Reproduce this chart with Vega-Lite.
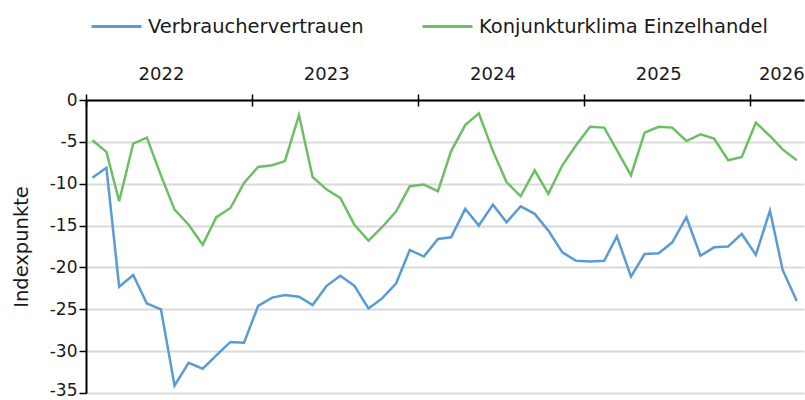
{
  "$schema": "https://vega.github.io/schema/vega-lite/v6.json",
  "width": 718,
  "height": 293,
  "autosize": {"type": "none"},
  "padding": {"left": 86, "top": 100, "right": 1, "bottom": 7},
  "background": "white",
  "config": {"font": "DejaVu Sans", "view": {"stroke": null}},
  "data": {
    "values": [
      {"Monat": "2022-01-15", "Verbrauchervertrauen": -9.3, "Konjunkturklima Einzelhandel": -4.8},
      {"Monat": "2022-02-15", "Verbrauchervertrauen": -8.1, "Konjunkturklima Einzelhandel": -6.2},
      {"Monat": "2022-03-15", "Verbrauchervertrauen": -22.3, "Konjunkturklima Einzelhandel": -12.1},
      {"Monat": "2022-04-15", "Verbrauchervertrauen": -20.9, "Konjunkturklima Einzelhandel": -5.2},
      {"Monat": "2022-05-15", "Verbrauchervertrauen": -24.3, "Konjunkturklima Einzelhandel": -4.5},
      {"Monat": "2022-06-15", "Verbrauchervertrauen": -25.0, "Konjunkturklima Einzelhandel": -9.0},
      {"Monat": "2022-07-15", "Verbrauchervertrauen": -34.1, "Konjunkturklima Einzelhandel": -13.1},
      {"Monat": "2022-08-15", "Verbrauchervertrauen": -31.4, "Konjunkturklima Einzelhandel": -14.9},
      {"Monat": "2022-09-15", "Verbrauchervertrauen": -32.1, "Konjunkturklima Einzelhandel": -17.3},
      {"Monat": "2022-10-15", "Verbrauchervertrauen": -30.5, "Konjunkturklima Einzelhandel": -14.0},
      {"Monat": "2022-11-15", "Verbrauchervertrauen": -28.9, "Konjunkturklima Einzelhandel": -12.9},
      {"Monat": "2022-12-15", "Verbrauchervertrauen": -29.0, "Konjunkturklima Einzelhandel": -9.9},
      {"Monat": "2023-01-15", "Verbrauchervertrauen": -24.6, "Konjunkturklima Einzelhandel": -8.0},
      {"Monat": "2023-02-15", "Verbrauchervertrauen": -23.6, "Konjunkturklima Einzelhandel": -7.8},
      {"Monat": "2023-03-15", "Verbrauchervertrauen": -23.3, "Konjunkturklima Einzelhandel": -7.3},
      {"Monat": "2023-04-15", "Verbrauchervertrauen": -23.5, "Konjunkturklima Einzelhandel": -1.8},
      {"Monat": "2023-05-15", "Verbrauchervertrauen": -24.5, "Konjunkturklima Einzelhandel": -9.2},
      {"Monat": "2023-06-15", "Verbrauchervertrauen": -22.2, "Konjunkturklima Einzelhandel": -10.7},
      {"Monat": "2023-07-15", "Verbrauchervertrauen": -21.0, "Konjunkturklima Einzelhandel": -11.7},
      {"Monat": "2023-08-15", "Verbrauchervertrauen": -22.2, "Konjunkturklima Einzelhandel": -14.9},
      {"Monat": "2023-09-15", "Verbrauchervertrauen": -24.9, "Konjunkturklima Einzelhandel": -16.8},
      {"Monat": "2023-10-15", "Verbrauchervertrauen": -23.7, "Konjunkturklima Einzelhandel": -15.2},
      {"Monat": "2023-11-15", "Verbrauchervertrauen": -21.9, "Konjunkturklima Einzelhandel": -13.3},
      {"Monat": "2023-12-15", "Verbrauchervertrauen": -17.9, "Konjunkturklima Einzelhandel": -10.3},
      {"Monat": "2024-01-15", "Verbrauchervertrauen": -18.7, "Konjunkturklima Einzelhandel": -10.1},
      {"Monat": "2024-02-15", "Verbrauchervertrauen": -16.6, "Konjunkturklima Einzelhandel": -10.9},
      {"Monat": "2024-03-15", "Verbrauchervertrauen": -16.4, "Konjunkturklima Einzelhandel": -6.1},
      {"Monat": "2024-04-15", "Verbrauchervertrauen": -13.0, "Konjunkturklima Einzelhandel": -3.0},
      {"Monat": "2024-05-15", "Verbrauchervertrauen": -15.0, "Konjunkturklima Einzelhandel": -1.6},
      {"Monat": "2024-06-15", "Verbrauchervertrauen": -12.5, "Konjunkturklima Einzelhandel": -6.1},
      {"Monat": "2024-07-15", "Verbrauchervertrauen": -14.6, "Konjunkturklima Einzelhandel": -9.8},
      {"Monat": "2024-08-15", "Verbrauchervertrauen": -12.7, "Konjunkturklima Einzelhandel": -11.5},
      {"Monat": "2024-09-15", "Verbrauchervertrauen": -13.6, "Konjunkturklima Einzelhandel": -8.4},
      {"Monat": "2024-10-15", "Verbrauchervertrauen": -15.6, "Konjunkturklima Einzelhandel": -11.2},
      {"Monat": "2024-11-15", "Verbrauchervertrauen": -18.2, "Konjunkturklima Einzelhandel": -7.8},
      {"Monat": "2024-12-15", "Verbrauchervertrauen": -19.2, "Konjunkturklima Einzelhandel": -5.4},
      {"Monat": "2025-01-15", "Verbrauchervertrauen": -19.3, "Konjunkturklima Einzelhandel": -3.2},
      {"Monat": "2025-02-15", "Verbrauchervertrauen": -19.2, "Konjunkturklima Einzelhandel": -3.3},
      {"Monat": "2025-03-15", "Verbrauchervertrauen": -16.3, "Konjunkturklima Einzelhandel": -6.0},
      {"Monat": "2025-04-15", "Verbrauchervertrauen": -21.1, "Konjunkturklima Einzelhandel": -9.0},
      {"Monat": "2025-05-15", "Verbrauchervertrauen": -18.4, "Konjunkturklima Einzelhandel": -3.9},
      {"Monat": "2025-06-15", "Verbrauchervertrauen": -18.3, "Konjunkturklima Einzelhandel": -3.2},
      {"Monat": "2025-07-15", "Verbrauchervertrauen": -17.0, "Konjunkturklima Einzelhandel": -3.3},
      {"Monat": "2025-08-15", "Verbrauchervertrauen": -14.0, "Konjunkturklima Einzelhandel": -4.9},
      {"Monat": "2025-09-15", "Verbrauchervertrauen": -18.6, "Konjunkturklima Einzelhandel": -4.1},
      {"Monat": "2025-10-15", "Verbrauchervertrauen": -17.6, "Konjunkturklima Einzelhandel": -4.6},
      {"Monat": "2025-11-15", "Verbrauchervertrauen": -17.5, "Konjunkturklima Einzelhandel": -7.2},
      {"Monat": "2025-12-15", "Verbrauchervertrauen": -16.0, "Konjunkturklima Einzelhandel": -6.8},
      {"Monat": "2026-01-15", "Verbrauchervertrauen": -18.5, "Konjunkturklima Einzelhandel": -2.7},
      {"Monat": "2026-02-15", "Verbrauchervertrauen": -13.2, "Konjunkturklima Einzelhandel": -4.3},
      {"Monat": "2026-03-15", "Verbrauchervertrauen": -20.3, "Konjunkturklima Einzelhandel": -5.9},
      {"Monat": "2026-04-15", "Verbrauchervertrauen": -24.0, "Konjunkturklima Einzelhandel": -7.2}
    ]
  },
  "transform": [
    {"fold": ["Verbrauchervertrauen", "Konjunkturklima Einzelhandel"], "as": ["Reihe", "Wert"]}
  ],
  "layer": [
    {
      "mark": {"type": "line", "strokeWidth": 2.5},
      "encoding": {
        "x": {
          "field": "Monat",
          "type": "temporal",
          "scale": {
            "type": "utc",
            "domain": [
              {"year": 2022, "month": 1, "date": 1, "utc": true},
              {"year": 2026, "month": 5, "date": 1, "utc": true}
            ]
          },
          "axis": {
            "orient": "top",
            "offset": -6,
            "title": null,
            "domain": false,
            "grid": false,
            "labels": false,
            "ticks": true,
            "tickSize": 12,
            "tickWidth": 1.5,
            "tickColor": "#000000",
            "values": [
              {"year": 2022, "month": 1, "date": 1, "utc": true},
              {"year": 2023, "month": 1, "date": 1, "utc": true},
              {"year": 2024, "month": 1, "date": 1, "utc": true},
              {"year": 2025, "month": 1, "date": 1, "utc": true},
              {"year": 2026, "month": 1, "date": 1, "utc": true}
            ]
          }
        },
        "y": {
          "field": "Wert",
          "type": "quantitative",
          "scale": {"domain": [-35, 0], "nice": false, "zero": false},
          "axis": {
            "values": [-35, -30, -25, -20, -15, -10, -5, 0],
            "labelExpr": "'' + datum.value",
            "labelFontSize": 17,
            "labelColor": "#1a1a1a",
            "labelPadding": 2,
            "labelBaseline": {"condition": {"test": "datum.value === -35", "value": "alphabetic"}, "value": "middle"},
            "labelOffset": {"condition": {"test": "datum.value === -35", "value": 2}, "value": 0},
            "domain": true,
            "domainColor": "#000000",
            "domainWidth": 2,
            "ticks": true,
            "tickSize": 7,
            "tickWidth": 1.5,
            "tickColor": "#000000",
            "grid": true,
            "gridColor": "#d9d9d9",
            "gridWidth": 2,
            "title": "Indexpunkte",
            "titleFontSize": 19.5,
            "titleFontWeight": "normal",
            "titleColor": "#1a1a1a",
            "titlePadding": 18
          }
        },
        "color": {
          "field": "Reihe",
          "type": "nominal",
          "scale": {
            "domain": ["Verbrauchervertrauen", "Konjunkturklima Einzelhandel"],
            "range": ["#5A9BD5", "#6DBE64"]
          },
          "legend": {
            "orient": "none",
            "legendX": 4,
            "legendY": -100,
            "direction": "horizontal",
            "title": null,
            "symbolType": "stroke",
            "symbolSize": 2500,
            "symbolStrokeWidth": 3,
            "labelFontSize": 19.5,
            "labelColor": "#1a1a1a",
            "labelOffset": 5,
            "labelLimit": 400,
            "columnPadding": 52,
            "padding": 0
          }
        }
      }
    },
    {
      "mark": {"type": "line", "strokeOpacity": 0},
      "encoding": {
        "x": {
          "field": "Monat",
          "type": "temporal",
          "axis": {
            "orient": "top",
            "title": null,
            "domain": true,
            "domainColor": "#000000",
            "domainWidth": 2,
            "grid": false,
            "ticks": false,
            "labels": true,
            "labelFontSize": 18,
            "labelColor": "#1a1a1a",
            "labelPadding": 17,
            "labelAlign": "center",
            "labelFlush": false,
            "labelOverlap": false,
            "format": "%Y",
            "values": [
              {"year": 2022, "month": 6, "date": 15, "utc": true},
              {"year": 2023, "month": 6, "date": 14, "utc": true},
              {"year": 2024, "month": 6, "date": 14, "utc": true},
              {"year": 2025, "month": 6, "date": 14, "utc": true},
              {"year": 2026, "month": 3, "date": 12, "utc": true}
            ]
          }
        },
        "y": {"field": "Wert", "type": "quantitative"},
        "detail": {"field": "Reihe", "type": "nominal"}
      }
    }
  ],
  "resolve": {"axis": {"x": "independent"}}
}
